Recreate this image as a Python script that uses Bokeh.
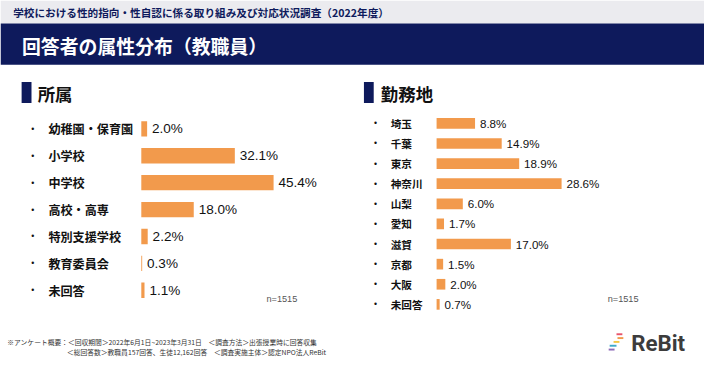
from bokeh.plotting import figure
from bokeh.models import Range1d, ColumnDataSource
from bokeh.embed import file_html
from bokeh.resources import INLINE
from bokeh.core.properties import value

# ---------------- data ----------------
top_title = "学校における性的指向・性自認に係る取り組み及び対応状況調査（2022年度）"
banner_title = "回答者の属性分布（教職員）"
left_title = "所属"
right_title = "勤務地"
left_cats = ["幼稚園・保育園", "小学校", "中学校", "高校・高専", "特別支援学校", "教育委員会", "未回答"]
left_vals = [2.0, 32.1, 45.4, 18.0, 2.2, 0.3, 1.1]
right_cats = ["埼玉", "千葉", "東京", "神奈川", "山梨", "愛知", "滋賀", "京都", "大阪", "未回答"]
right_vals = [8.8, 14.9, 18.9, 28.6, 6.0, 1.7, 17.0, 1.5, 2.0, 0.7]
n_label = "n=1515"
footer1 = "※アンケート概要：＜回収期間＞2022年6月1日~2023年3月31日　＜調査方法＞出張授業時に回答収集"
footer2 = "＜総回答数＞教職員157回答、生徒12,162回答　＜調査実施主体＞認定NPO法人ReBit"

# ---------------- styles ----------------
NAVY = "#0E1A5C"
ORANGE = "#F29A4C"
JP = value("Noto Sans CJK JP")
LAT = value("Liberation Sans")

# design space 720x378 drawn on a 704x362 canvas (fits window with 8px margin)
DW, DH = 720, 378
W, H = 704, 362
SX = W / DW
FS = (W / DW + H / DH) / 2


def fs(px):
    return f"{px * FS:.2f}px"


p = figure(width=W, height=H, output_backend="svg", toolbar_location=None,
           x_range=Range1d(0, DW), y_range=Range1d(DH, 0),
           min_border=0, outline_line_color=None, background_fill_color="white")
p.axis.visible = False
p.grid.visible = False


def add_chart(name, x0, k, y0, dy):
    # x: percent -> design x0 + k*pct ; y: row index -> design y0 + dy*i
    p.extra_x_ranges[name + "x"] = Range1d((0 - x0) / k, (DW - x0) / k)
    p.extra_y_ranges[name + "y"] = Range1d((DH - y0) / dy, (0 - y0) / dy)


add_chart("L", 144, 2.98, 134.0, 28.1)
add_chart("R", 446, 4.47, 128.3, 21.0)

# header strip and banner
p.quad(left=0, right=DW, top=0, bottom=24, fill_color="#EBEBEF", line_color=None)
p.quad(left=0, right=DW, top=24, bottom=67, fill_color=NAVY, line_color=None)
p.text(x=[13], y=[13], text=[top_title], text_font=JP, text_font_size=fs(11),
       text_font_style="bold", text_color=NAVY, text_baseline="middle")
p.text(x=[22], y=[47], text=[banner_title], text_font=JP, text_font_size=fs(19.5),
       text_font_style="bold", text_color="white", text_baseline="middle")

# section headers
p.quad(left=[21.6, 371.7], right=[31.7, 381.7], top=[85, 85], bottom=[107, 107],
       fill_color=NAVY, line_color=None)
p.text(x=[38, 389], y=[97, 97], text=[left_title, right_title], text_font=JP,
       text_font_size=fs(18), text_font_style="bold", text_color="#111111",
       text_baseline="middle")


def draw(name, cats, vals, bar_h, bullet_x, label_x, lab_size, val_size):
    idx = list(range(len(cats)))
    src = ColumnDataSource(dict(y=idx, v=vals, cat=cats,
                                lab=[f"{v:.1f}%" for v in vals],
                                bx=[bullet_x] * len(cats), lx=[label_x] * len(cats),
                                b=["•"] * len(cats)))
    p.hbar(y="y", left=0, right="v", height=bar_h, source=src, fill_color=ORANGE,
           line_color=None, x_range_name=name + "x", y_range_name=name + "y")
    p.text(x="v", y="y", text="lab", source=src, x_offset=5 * SX, text_font=LAT,
           text_font_size=val_size, text_color="#111111", text_baseline="middle",
           x_range_name=name + "x", y_range_name=name + "y")
    p.text(x="bx", y="y", text="b", source=src, text_font=LAT, text_font_size=fs(9),
           text_color="#111111", text_baseline="middle", text_align="center",
           y_range_name=name + "y")
    p.text(x="lx", y="y", text="cat", source=src, text_font=JP, text_font_size=lab_size,
           text_font_style="bold", text_color="#111111", text_baseline="middle",
           y_range_name=name + "y")


draw("L", left_cats, left_vals, 0.57, 33, 49, fs(12.5), fs(14))
draw("R", right_cats, right_vals, 0.53, 383.5, 399, fs(11), fs(12))

# n labels
p.text(x=[272, 621], y=[312, 312], text=[n_label, n_label], text_font=LAT,
       text_font_size=fs(9.5), text_color="#555555", text_baseline="middle")

# footer
p.text(x=[7], y=[357], text=[footer1], text_font=JP, text_font_size=fs(7),
       text_color="#333333", text_baseline="middle")
p.text(x=[68], y=[367], text=[footer2], text_font=JP, text_font_size=fs(7),
       text_color="#333333", text_baseline="middle")

# logo
p.quad(left=[630, 631, 627, 623, 622], right=[636, 637, 633, 630, 628],
       top=[347.5, 351.5, 355.5, 359.5, 363.5], bottom=[349.5, 353.5, 357.5, 361.5, 365.5],
       fill_color=["#E9546B", "#F29A4C", "#F5C843", "#3FA9C9", "#8E6CB8"], line_color=None)
p.text(x=[645], y=[358], text=["ReBit"], text_font=value("Roboto"), text_font_size=fs(23),
       text_font_style="bold", text_color="#3C3C3C", text_baseline="middle")

open("out.html", "w").write(file_html(p, INLINE))
